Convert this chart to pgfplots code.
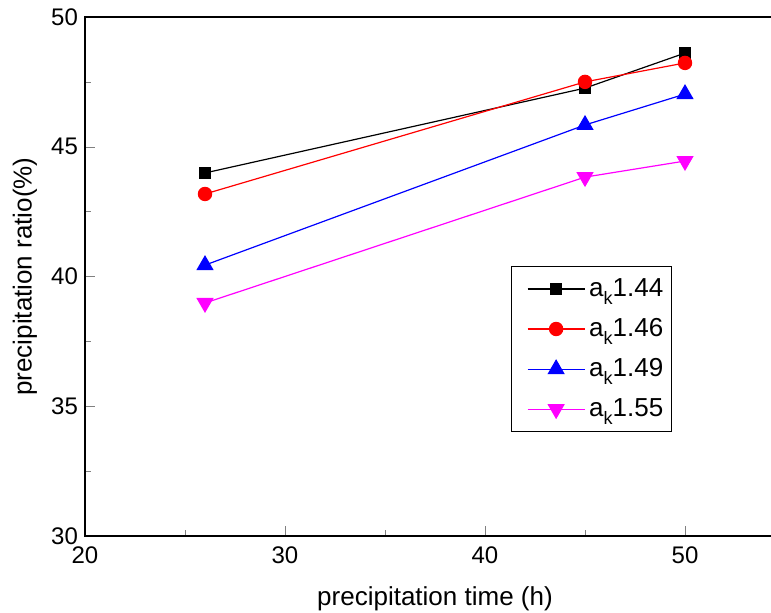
\documentclass[border=0pt]{standalone}
\usepackage{fontspec}
\setmainfont{Liberation Sans}
\usepackage{pgfplots}
\pgfplotsset{compat=1.18}

\definecolor{mag}{RGB}{255,0,255}
\newcommand{\ak}[1]{a\raisebox{-0.6ex}{\fontsize{9}{10}\selectfont k}#1}

\begin{document}
\begin{tikzpicture}
\begin{axis}[
    scale only axis,
    width=350pt, height=259.5pt,
    xmin=20, xmax=55, ymin=30, ymax=50,
    xtick={20,30,40,50}, ytick={30,35,40,45,50},
    minor x tick num=1, minor y tick num=1,
    tick align=inside, tick pos=left,
    major tick length=5pt, minor tick length=3pt,
    axis line style={line width=1pt},
    /pgf/number format/assume math mode=true,
    ticklabel style={font=\fontsize{12}{13}\selectfont},
    xticklabel style={yshift=-2pt},
    xlabel={precipitation time (h)},
    ylabel={precipitation ratio(\%)},
    label style={font=\fontsize{13}{14}\selectfont},
    xlabel style={at={(axis description cs:0.5,0)}, anchor=center, yshift=-31.5pt},
    ylabel style={at={(axis description cs:0,0.5)}, anchor=center, yshift=30pt},
    legend style={at={(axis description cs:0.609,0.52)}, anchor=north west,
        font=\fontsize{13}{14}\selectfont,
        row sep=5.5pt, inner xsep=2pt, inner ysep=4pt, cells={anchor=west}},
    legend image code/.code={
        \path (-0.2cm,0cm);
        \draw[mark repeat=2, mark phase=2, #1] plot coordinates {(0cm,0cm) (0.5cm,0cm) (1cm,0cm)};},
]
\addplot[black, line width=0.6pt, mark=square*, mark size=2.8pt] coordinates {(26,43.99) (45,47.26) (50,48.61)};
\addlegendentry{\ak{1.44}}
\addplot[red, line width=0.6pt, mark=*, mark size=3.3pt] coordinates {(26,43.18) (45,47.50) (50,48.23)};
\addlegendentry{\ak{1.46}}
\addplot[blue, line width=0.6pt, mark=triangle*, mark size=4.4pt] coordinates {(26,40.44) (45,45.84) (50,47.03)};
\addlegendentry{\ak{1.49}}
\addplot[mag, line width=0.6pt, mark=triangle*, mark options={rotate=180}, mark size=4.4pt] coordinates {(26,38.98) (45,43.83) (50,44.45)};
\addlegendentry{\ak{1.55}}
\coordinate (o) at (rel axis cs:0,0);
\end{axis}
\pgfresetboundingbox
\path[use as bounding box] ([shift={(-42.5pt,-38pt)}]o) rectangle ++(385.5pt,306pt);
\end{tikzpicture}
\end{document}
